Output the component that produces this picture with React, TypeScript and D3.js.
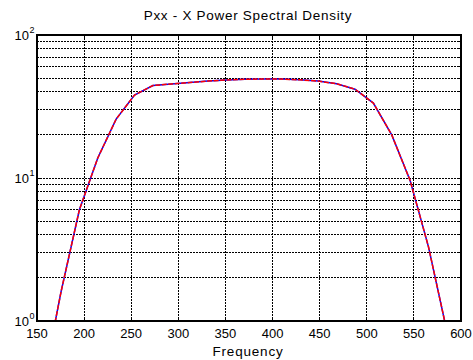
import React from "react";
import * as d3 from "d3";

const freqs = [156, 175.5, 195, 214.5, 234, 253.5, 273, 292.5, 312, 331.5, 351, 370.5, 390, 409.5, 429, 448.5, 468, 487.5, 507, 526.5, 546, 565.5, 585, 604.5];
const pxx = [0.35, 1.6, 6.0, 13.8, 25.8, 38.0, 44.3, 45.5, 46.5, 47.6, 48.5, 49.0, 49.3, 49.2, 48.6, 47.6, 45.6, 41.8, 33.4, 20.0, 9.6, 3.3, 0.85, 0.2];
const xTicks = [150, 200, 250, 300, 350, 400, 450, 500, 550, 600];
const yDecades = [0, 1, 2];
const titleText = "Pxx - X Power Spectral Density";
const xLabelText = "Frequency";

export default function App() {
  const W = 473, H = 360;
  const left = 37, right = 461, top = 35, bottom = 321;
  const x = d3.scaleLinear().domain([150, 600]).range([left, right]);
  const y = d3.scaleLog().domain([1, 100]).range([bottom, top]);
  const minor: number[] = [];
  for (let d = 0; d < 2; d++) for (let k = 2; k <= 9; k++) minor.push(k * Math.pow(10, d));
  const pts = freqs.map((f, i) => [f, pxx[i]] as [number, number]);
  const line = d3.line<[number, number]>().x(d => x(d[0])).y(d => y(d[1]));
  const path = line(pts) || "";
  const font = "Liberation Sans, Arial, Helvetica, sans-serif";
  return (
    <svg width={W} height={H} style={{ position: "absolute", left: 0, top: 0, background: "#fff" }} fontFamily={font}>
      <defs>
        <clipPath id="plotclip">
          <rect x={left} y={top} width={right - left} height={bottom - top} />
        </clipPath>
      </defs>
      <rect x={0} y={0} width={W} height={H} fill="#fff" />
      <g stroke="#000" strokeWidth={1} strokeDasharray="1.5,1.5" shapeRendering="crispEdges">
        {xTicks.slice(1, -1).map(t => (
          <line key={"gx" + t} x1={x(t)} x2={x(t)} y1={top} y2={bottom} />
        ))}
        {[...minor, 10].map(v => (
          <line key={"gy" + v} x1={left} x2={right} y1={y(v)} y2={y(v)} />
        ))}
      </g>
      <g stroke="#000" strokeWidth={1} shapeRendering="crispEdges">
        {xTicks.map(t => (
          <g key={"tx" + t}>
            <line x1={x(t)} x2={x(t)} y1={bottom} y2={bottom - 4} />
            <line x1={x(t)} x2={x(t)} y1={top} y2={top + 4} />
          </g>
        ))}
        {[...minor, 10].map(v => (
          <g key={"ty" + v}>
            <line x1={left} x2={left + (v === 10 ? 4 : 2)} y1={y(v)} y2={y(v)} />
            <line x1={right} x2={right - (v === 10 ? 4 : 2)} y1={y(v)} y2={y(v)} />
          </g>
        ))}
      </g>
      <g clipPath="url(#plotclip)">
        <path d={path} fill="none" stroke="#0000ff" strokeWidth={1.5} />
        <path d={path} fill="none" stroke="#ff0000" strokeWidth={1.5} strokeDasharray="5,1.5" />
      </g>
      <rect x={left} y={top} width={right - left} height={bottom - top} fill="none" stroke="#000" strokeWidth={2} />
      {xTicks.map(t => (
        <text key={"lx" + t} x={x(t)} y={338} textAnchor="middle" fontSize={13} fill="#000">{t}</text>
      ))}
      {yDecades.map(d => (
        <text key={"ly" + d} x={29} y={y(Math.pow(10, d)) + 5} textAnchor="end" fontSize={13} fill="#000">10</text>
      ))}
      {yDecades.map(d => (
        <text key={"le" + d} x={29.5} y={y(Math.pow(10, d)) - 2} textAnchor="start" fontSize={9} fill="#000">{d}</text>
      ))}
      <text x={248} y={20} textAnchor="middle" fontSize={13.5} letterSpacing={0.7} fill="#000">{titleText}</text>
      <text x={248} y={356} textAnchor="middle" fontSize={13.5} letterSpacing={0.8} fill="#000">{xLabelText}</text>
    </svg>
  );
}
